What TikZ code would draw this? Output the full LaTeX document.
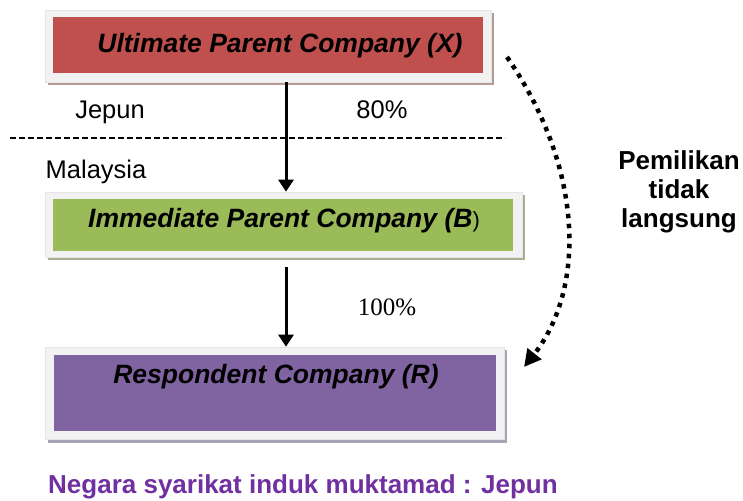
\documentclass[tikz,border=0pt]{standalone}
\usepackage{fontspec}
\setmainfont{Liberation Sans}
\newfontfamily\serifrm{Liberation Serif}
\usetikzlibrary{arrows.meta}
\definecolor{boxred}{HTML}{C0504D}
\definecolor{boxgreen}{HTML}{9BBB59}
\definecolor{boxpurple}{HTML}{8064A2}
\definecolor{shred}{HTML}{B69899}
\definecolor{shgreen}{HTML}{A6AE94}
\definecolor{shpurple}{HTML}{A9A2B6}
\definecolor{framegray}{HTML}{F2F2F2}
\definecolor{notepurple}{HTML}{7030A0}
\tikzset{
  frame/.style={rectangle, fill=framegray, draw=black!10, line width=0.6pt, inner sep=0pt},
  inner/.style={rectangle, inner sep=0pt},
  boxtext/.style={font=\fontsize{26.5}{30}\selectfont\bfseries\itshape, anchor=base, inner sep=0pt},
  plain/.style={font=\fontsize{25.5}{30}\selectfont, anchor=base, inner sep=0pt},
  own/.style={line width=3pt, -{Triangle[length=12pt,width=15pt]}},
  border/.style={line width=1.4pt, dash pattern=on 6pt off 3pt},
  indirect/.style={line width=4.5pt, dash pattern=on 4.5pt off 5.5pt, -{Triangle[length=17pt,width=17pt]}}
}
\begin{document}
\begin{tikzpicture}[x=1pt,y=-1pt]
\useasboundingbox (0,0) rectangle (743,500);
% shadows
\fill[shred] (48,13) rectangle (494,85);
\fill[shgreen] (48,195) rectangle (525,260);
\fill[shpurple] (48,350) rectangle (507,443);
% frames
\node[frame, minimum width=446pt, minimum height=72pt] (fX) at (268,46) {};
\node[frame, minimum width=477pt, minimum height=65pt] (fB) at (283.5,224.5) {};
\node[frame, minimum width=459pt, minimum height=92pt] (fR) at (274.5,393) {};
% coloured boxes
\node[inner, fill=boxred, minimum width=430pt, minimum height=56pt] (X) at (268,45) {};
\node[inner, fill=boxgreen, minimum width=460pt, minimum height=52pt] (B) at (283,225) {};
\node[inner, fill=boxpurple, minimum width=442pt, minimum height=76pt] (R) at (275,393) {};
% box texts
\node[boxtext] (tX) at (280,53) {Ultimate Parent Company (X)};
\node[boxtext] (tB) at (284,227) {Immediate Parent Company (B{\normalfont\fontsize{22}{26}\selectfont )}};
\node[boxtext] (tR) at (276,383) {Respondent Company (R)};
% ownership arrows
\coordinate (ax) at (286,0);
\draw[own] (fX.south -| ax) -- (fB.north -| ax);
\draw[own] (fB.south -| ax) ++(0,10) -- (fR.north -| ax);
% country border
\coordinate (bl) at (10,138);
\coordinate (br) at (505,138);
\draw[border] (bl) -- (br);
\node[plain] (jp) at (110,118) {Jepun};
\node[plain] (my) at (96,178) {Malaysia};
\node[plain] (p80) at (382,118) {80\%};
\node[plain, font=\fontsize{25}{30}\selectfont\serifrm] (p100) at (387,315) {100\%};
% indirect ownership
\coordinate (iS) at (507,57);
\coordinate (iE) at (524,367);
\draw[indirect] (iS) .. controls (585,170) and (585,290) .. (iE);
\node[font=\fontsize{26}{29}\selectfont\bfseries, align=center, inner sep=0pt] (ind) at (679,192) {Pemilikan\\tidak\\langsung};
% note
\node[font=\fontsize{26}{30}\selectfont\bfseries, text=notepurple, anchor=base, inner sep=0pt] (note) at (303,493) {Negara syarikat induk muktamad : Jepun};
\end{tikzpicture}
\end{document}
